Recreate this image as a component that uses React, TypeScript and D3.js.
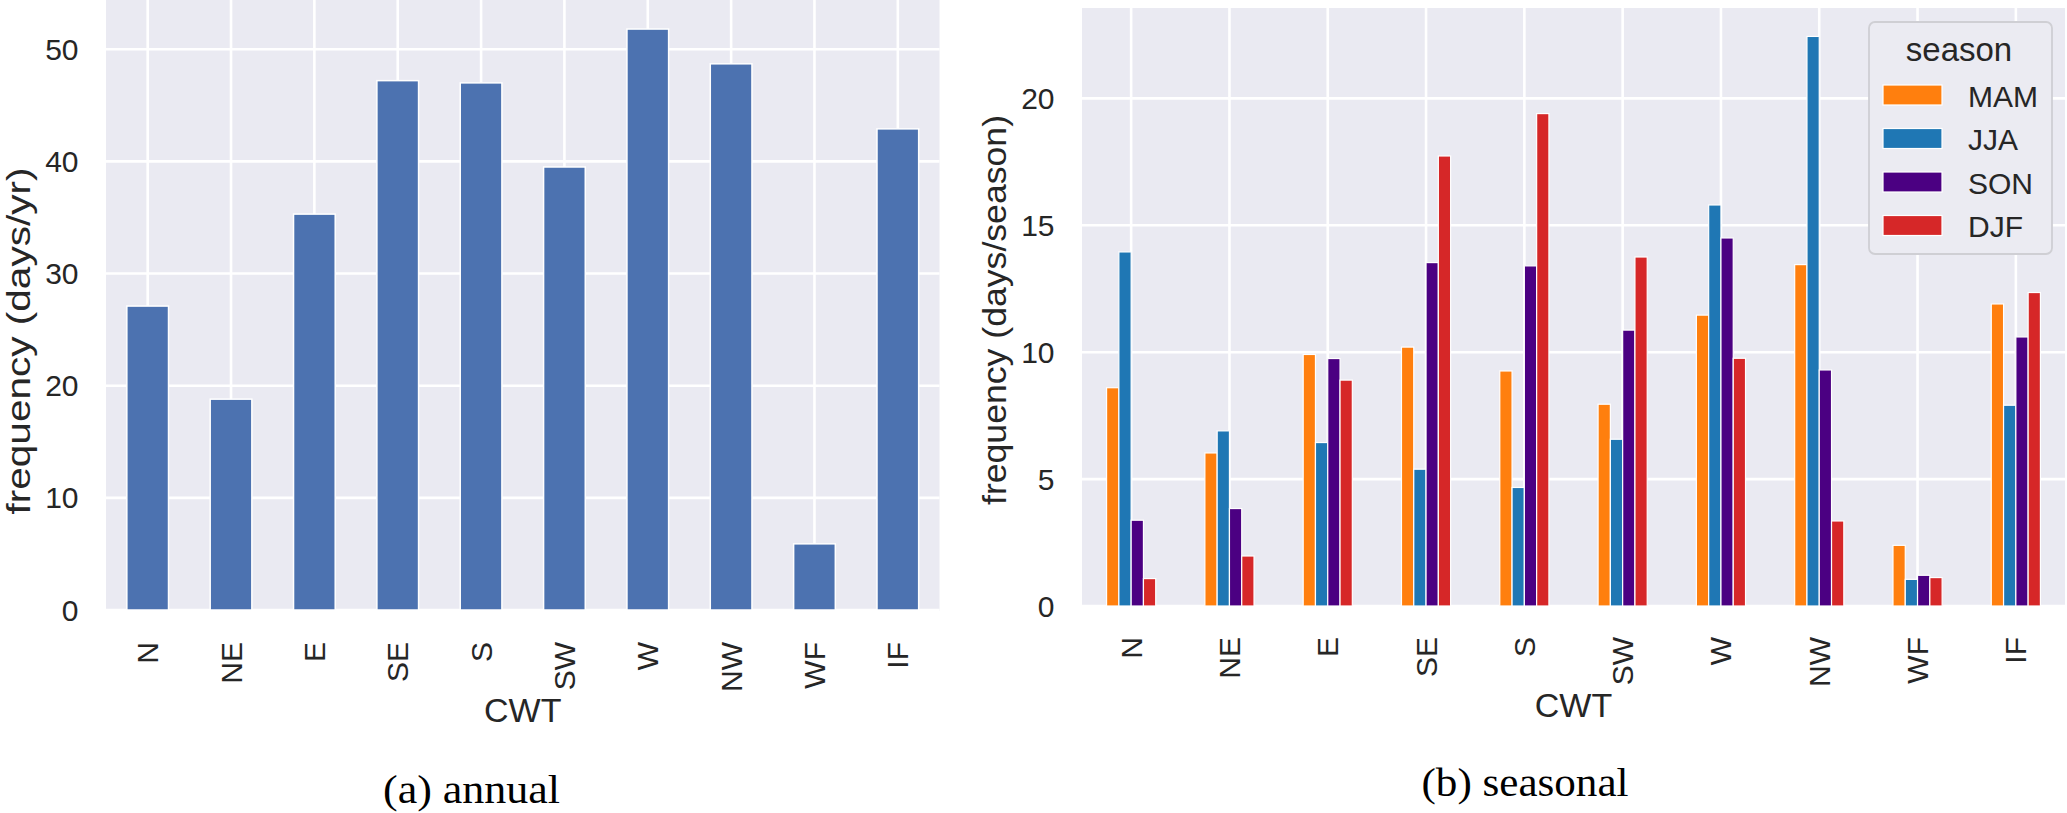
import React from 'react';
import * as d3 from 'd3';

const categories = ['N', 'NE', 'E', 'SE', 'S', 'SW', 'W', 'NW', 'WF', 'IF'];
const annualValues = [27.1, 18.8, 35.3, 47.2, 47.0, 39.5, 51.8, 48.7, 5.9, 42.9];

const seasons = ['MAM', 'JJA', 'SON', 'DJF'];
const mamValues = [8.6, 6.03, 9.91, 10.2, 9.26, 7.95, 11.46, 13.45, 2.39, 11.9];
const jjaValues = [13.95, 6.9, 6.44, 5.39, 4.67, 6.57, 15.8, 22.44, 1.05, 7.91];
const sonValues = [3.38, 3.84, 9.75, 13.53, 13.4, 10.87, 14.5, 9.3, 1.21, 10.6];
const djfValues = [1.08, 1.97, 8.9, 17.73, 19.4, 13.75, 9.76, 3.35, 1.12, 12.35];
const seasonColors = ['#ff7f0e', '#1f77b4', '#4b0082', '#d62728'];

const annualTicks = [0, 10, 20, 30, 40, 50];
const seasonalTicks = [0, 5, 10, 15, 20];

const seasonalSeries = [mamValues, jjaValues, sonValues, djfValues];

const TEXT = '#262626';
const SANS = '"Liberation Sans", Arial, sans-serif';
const SERIF = '"Liberation Serif", "DejaVu Serif", serif';
const BG = '#eaeaf2';

function Panel(props: {
  x0: number; x1: number; yTop: number; yZero: number; yMax: number;
  ticks: number[]; ylabel: string; ylabelY: number; ylabelX: number; ylabelLen: number; ylabelSize: number;
  xlabelY: number; tickTop: number; children: (x: d3.ScalePoint<string>, y: d3.ScaleLinear<number, number>) => React.ReactNode;
}) {
  const { x0, x1, yTop, yZero, yMax, ticks } = props;
  const x = d3.scalePoint<string>().domain(categories).range([x0, x1]).padding(0.5);
  const y = d3.scaleLinear().domain([0, yMax]).range([yZero, yTop]);
  return (
    <g>
      <rect x={x0} y={yTop} width={x1 - x0} height={yZero - yTop + 1} fill={BG} />
      {ticks.map((t) => (
        <line key={'h' + t} x1={x0} x2={x1} y1={y(t)} y2={y(t)} stroke="#fff" strokeWidth={2.6} />
      ))}
      {categories.map((c) => (
        <line key={'v' + c} x1={x(c)} x2={x(c)} y1={yTop} y2={yZero} stroke="#fff" strokeWidth={2.6} />
      ))}
      {props.children(x, y)}
      {ticks.map((t) => (
        <text key={'yt' + t} x={x0 - 27.5} y={y(t)} textAnchor="end" dominantBaseline="central"
          fontFamily={SANS} fontSize={30} fill={TEXT}>{t}</text>
      ))}
      {categories.map((c) => (
        <text key={'xt' + c} transform={`translate(${x(c)},${props.tickTop}) rotate(-90)`}
          textAnchor="end" dominantBaseline="central" fontFamily={SANS} fontSize={30} fill={TEXT}>{c}</text>
      ))}
      <text x={(x0 + x1) / 2} y={props.xlabelY} textAnchor="middle" fontFamily={SANS} fontSize={34} fill={TEXT}>CWT</text>
      <text transform={`translate(${props.ylabelX},${props.ylabelY}) rotate(-90)`} textAnchor="middle"
        fontFamily={SANS} fontSize={props.ylabelSize} fill={TEXT}
        textLength={props.ylabelLen} lengthAdjust="spacingAndGlyphs">{props.ylabel}</text>
    </g>
  );
}

export default function App() {
  return (
    <svg width={2067} height={813} style={{ position: 'absolute', left: 0, top: 0, background: '#fff' }}>
      <Panel x0={106} x1={939.5} yTop={0} yZero={610} yMax={54.39} ticks={annualTicks}
        ylabel="frequency (days/yr)" ylabelX={30} ylabelY={341} ylabelLen={347} ylabelSize={33}
        xlabelY={722} tickTop={642}>
        {(x, y) => {
          const bw = x.step() * 0.5;
          return annualValues.map((v, i) => (
            <rect key={i} x={(x(categories[i]) as number) - bw / 2} y={y(v)} width={bw} height={y(0) - y(v)}
              fill="#4c72b0" stroke="#fff" strokeWidth={1.5} />
          ));
        }}
      </Panel>
      <Panel x0={1082} x1={2065} yTop={8} yZero={606} yMax={23.56} ticks={seasonalTicks}
        ylabel="frequency (days/season)" ylabelX={1006} ylabelY={310} ylabelLen={390} ylabelSize={34}
        xlabelY={717} tickTop={637}>
        {(x, y) => {
          const inner = d3.scaleBand<string>().domain(seasons).range([-x.step() * 0.25, x.step() * 0.25]);
          return seasonalSeries.map((series, s) =>
            series.map((v, i) => (
              <rect key={s + '-' + i} x={(x(categories[i]) as number) + (inner(seasons[s]) as number)} y={y(v)}
                width={inner.bandwidth()} height={y(0) - y(v)}
                fill={seasonColors[s]} stroke="#fff" strokeWidth={1.2} />
            ))
          );
        }}
      </Panel>
      <g>
        <rect x={1869} y={22} width={183} height={232} rx={6} fill="#ebebf2" stroke="#cfcfd4" strokeWidth={1.8} />
        <text x={1959} y={61} textAnchor="middle" fontFamily={SANS} fontSize={33} fill={TEXT}>season</text>
        {seasons.map((s, i) => (
          <g key={s}>
            <rect x={1883} y={85 + i * 43.5} width={59} height={20} fill={seasonColors[i]} stroke="#fff" strokeWidth={1.2} />
            <text x={1968} y={96 + i * 43.5} dominantBaseline="central" fontFamily={SANS} fontSize={30} fill={TEXT}>{s}</text>
          </g>
        ))}
      </g>
      <text x={471.5} y={803} textAnchor="middle" fontFamily={SERIF} fontSize={40} fill="#000"
        textLength={177} lengthAdjust="spacingAndGlyphs">(a) annual</text>
      <text x={1525} y={796} textAnchor="middle" fontFamily={SERIF} fontSize={40} fill="#000"
        textLength={207} lengthAdjust="spacingAndGlyphs">(b) seasonal</text>
    </svg>
  );
}
